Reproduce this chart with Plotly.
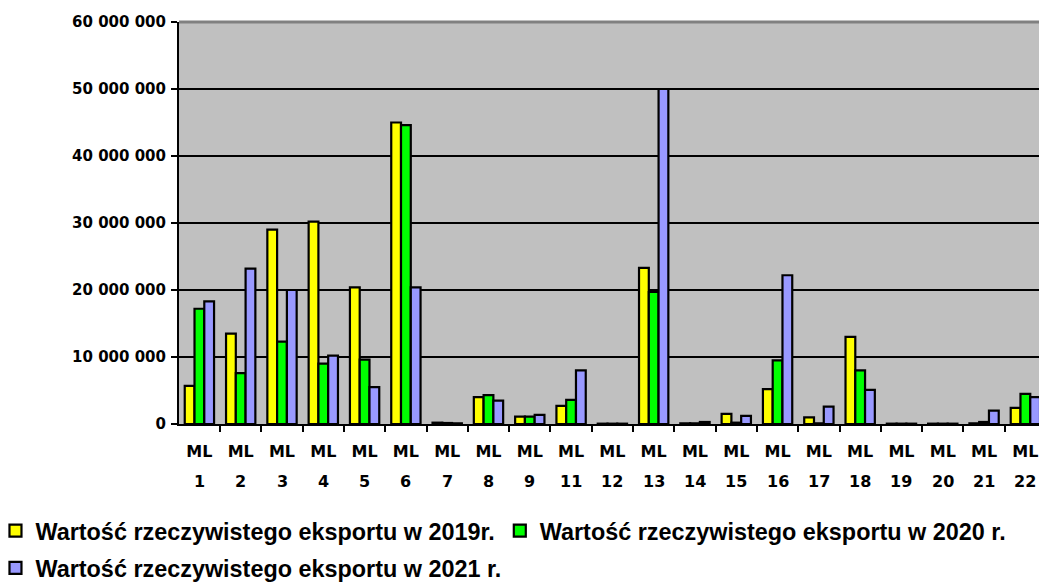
import plotly.graph_objects as go

category_numbers = ["1", "2", "3", "4", "5", "6", "7", "8", "9", "11", "12", "13", "14", "15",
                    "16", "17", "18", "19", "20", "21", "22"]
category_prefix = "ML"
categories = [f"{category_prefix} {n}" for n in category_numbers]

export_2019 = [5.7e6, 13.5e6, 29.0e6, 30.2e6, 20.4e6, 45.0e6, 0.2e6, 4.0e6, 1.1e6, 2.7e6, 0.05e6,
               23.3e6, 0.1e6, 1.5e6, 5.2e6, 1.0e6, 13.0e6, 0.05e6, 0.05e6, 0.1e6, 2.4e6]
export_2020 = [17.2e6, 7.6e6, 12.3e6, 9.0e6, 9.6e6, 44.6e6, 0.15e6, 4.3e6, 1.1e6, 3.6e6, 0.05e6,
               19.7e6, 0.1e6, 0.2e6, 9.5e6, 0.1e6, 8.0e6, 0.05e6, 0.05e6, 0.3e6, 4.5e6]
export_2021 = [18.3e6, 23.2e6, 20.0e6, 10.2e6, 5.5e6, 20.4e6, 0.1e6, 3.5e6, 1.35e6, 8.0e6, 0.05e6,
               50.0e6, 0.3e6, 1.2e6, 22.2e6, 2.6e6, 5.1e6, 0.05e6, 0.05e6, 2.0e6, 4.0e6]

series_names = ["Wartość rzeczywistego eksportu w 2019r.",
                "Wartość rzeczywistego eksportu w 2020 r.",
                "Wartość rzeczywistego eksportu w 2021 r."]
series_colors = ["#FFFF00", "#00FF00", "#9999FF"]
series_legends = ["legend", "legend", "legend2"]

y_ticks = [0, 10e6, 20e6, 30e6, 40e6, 50e6, 60e6]
y_tick_labels = ["0", "10 000 000", "20 000 000", "30 000 000", "40 000 000", "50 000 000", "60 000 000"]

TICK_FONT = "DejaVu Sans, sans-serif"
LEGEND_FONT = "Liberation Sans, Arial, sans-serif"

fig = go.Figure()
for vals, name, col, leg in zip([export_2019, export_2020, export_2021], series_names,
                                series_colors, series_legends):
    fig.add_trace(go.Bar(
        x=categories, y=vals, name=name, legend=leg,
        marker=dict(color=col, line=dict(color="black", width=2.2)),
    ))

# second row of category labels (the numbers under "ML")
for cat, num in zip(categories, category_numbers):
    fig.add_annotation(x=cat, xref="x", y=-0.1418, yref="paper", yanchor="middle",
                       text=num, showarrow=False,
                       font=dict(size=16, family=TICK_FONT, weight="bold", color="black"))

x_range = [-0.494, 20.33]
legend_font = dict(size=23.4, family=LEGEND_FONT, weight="bold", color="black")

fig.update_layout(
    width=1039, height=585,
    margin=dict(l=179, r=0, t=22, b=161, autoexpand=False),
    paper_bgcolor="white",
    plot_bgcolor="#C0C0C0",
    barmode="group",
    bargap=0.29,
    bargroupgap=0.0,
    font=dict(family=TICK_FONT, color="black"),
    xaxis=dict(
        range=x_range,
        tickvals=categories,
        ticktext=[category_prefix for _ in categories],
        showgrid=False,
        showline=True, linecolor="black", linewidth=2,
        ticks="outside", ticklen=6, tickwidth=2, tickcolor="black",
        tickfont=dict(size=16, family=TICK_FONT, weight="bold"),
        ticklabelstandoff=12,
        tickson="boundaries",
        automargin=False,
    ),
    yaxis=dict(
        range=[0, 60e6],
        tickvals=y_ticks, ticktext=y_tick_labels,
        showgrid=True, gridcolor="black", gridwidth=2,
        showline=True, linecolor="black", linewidth=2,
        ticks="outside", ticklen=6, tickwidth=2, tickcolor="black",
        tickfont=dict(size=15, family=TICK_FONT, weight="bold"),
        ticklabelstandoff=2,
        zeroline=False,
        automargin=False,
    ),
    legend=dict(
        orientation="h",
        x=-0.2134, xanchor="left",
        y=-0.2114, yanchor="top",
        font=legend_font,
        bgcolor="rgba(0,0,0,0)",
    ),
    legend2=dict(
        orientation="h",
        x=-0.2134, xanchor="left",
        y=-0.304, yanchor="top",
        font=legend_font,
        bgcolor="rgba(0,0,0,0)",
    ),
    showlegend=True,
)
fig.add_shape(type="line", xref="paper", yref="paper", x0=0, x1=1, y0=1, y1=1,
              line=dict(color="#808080", width=3))

fig.write_html("out.html", config={"displayModeBar": False},
               post_script="document.body.style.margin='0';document.body.style.overflow='hidden';")
